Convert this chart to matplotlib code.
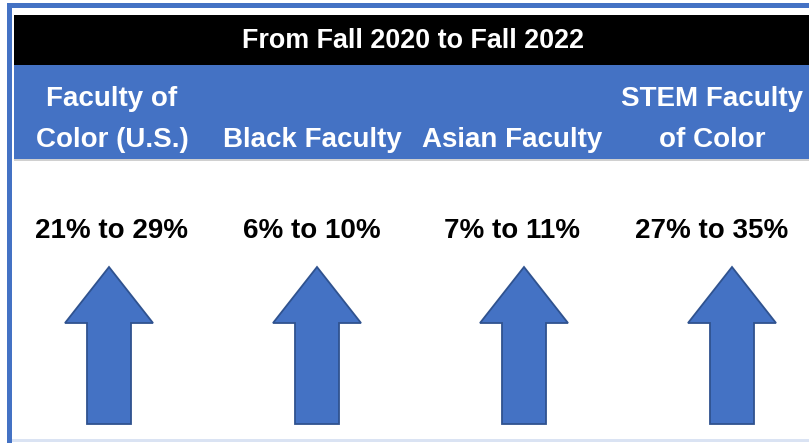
import matplotlib.pyplot as plt
from matplotlib.patches import Rectangle, FancyArrow

# data
title = 'From Fall 2020 to Fall 2022'
groups = ['Faculty of\nColor (U.S.)', 'Black Faculty', 'Asian Faculty', 'STEM Faculty\nof Color']
fall_2020 = [21, 6, 7, 27]
fall_2022 = [29, 10, 11, 35]

plt.rcParams['font.family'] = ['Liberation Sans', 'DejaVu Sans']

blue = '#4472C4'
W, H = 809, 443
fig = plt.figure(figsize=(W / 100, H / 100), dpi=100)
ax = fig.add_axes([0, 0, 1, 1])
ax.set_xlim(0, W)
ax.set_ylim(H, 0)
ax.axis('off')

# frame
ax.add_patch(Rectangle((7, 3), W, 5, color=blue, lw=0))
ax.add_patch(Rectangle((7, 3), 5, H, color=blue, lw=0))
ax.add_patch(Rectangle((12, 439), W, 3, color='#DAE3F3', lw=0))
# bands
ax.add_patch(Rectangle((14, 15), W, 50, color='black', lw=0))
ax.add_patch(Rectangle((14, 65), W, 94, color=blue, lw=0))
ax.add_patch(Rectangle((14, 159), W, 1.5, color='#D0D0D0', lw=0))

ax.text(413, 41, title, color='white', fontsize=19.4, fontweight='bold',
        ha='center', va='center')

label_x = [112, 312, 512, 712]
arrow_x = [109, 317, 524, 732]
for i, g in enumerate(groups):
    ax.text(label_x[i], 153, g, color='white', fontsize=20, fontweight='bold',
            ha='center', va='bottom', multialignment='center', linespacing=1.75)
    ax.text(label_x[i], 231, f'{fall_2020[i]}% to {fall_2022[i]}%', color='black',
            fontsize=20, fontweight='bold', ha='center', va='center')
    ax.add_patch(FancyArrow(arrow_x[i], 424, 0, -157, width=44, head_width=88,
                            head_length=56, length_includes_head=True,
                            facecolor=blue, edgecolor='#2F528F', lw=1.3))

fig.savefig('out.png', dpi=100)
